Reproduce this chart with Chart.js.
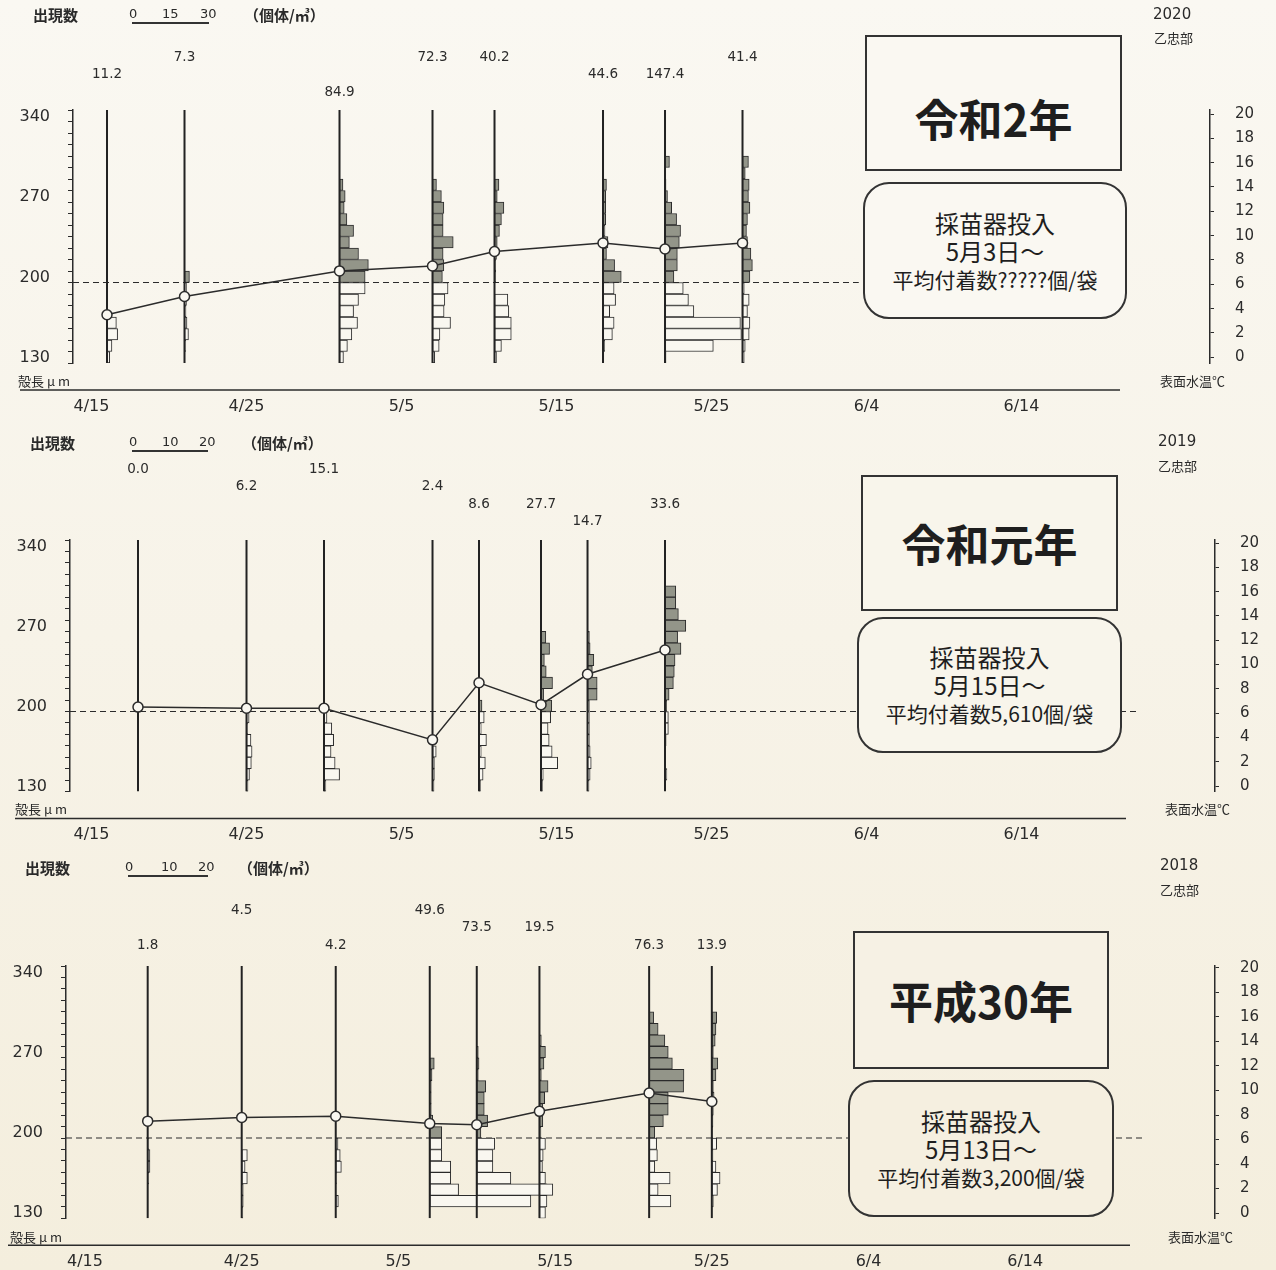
<!DOCTYPE html>
<html lang="ja">
<head>
<meta charset="utf-8">
<title>ホタテ稚貝 出現数・殻長組成と表面水温</title>
<script src="https://cdn.jsdelivr.net/npm/chart.js"></script>
<style>
  html, body { margin: 0; padding: 0; }
  body {
    width: 1276px; height: 1270px; overflow: hidden; position: relative;
    background: linear-gradient(#faf8f2, #f7f3e8 50%, #f4eedd);
    font-family: "Noto Sans CJK JP", sans-serif; color: #2a2a2a;
  }
  canvas { position: absolute; left: 0; }
  .t { position: absolute; transform: translateY(-50%); white-space: nowrap; line-height: 1; }
  .hd { font-size: 15px; font-weight: bold; }
  .sm { font-size: 13px; }
  .num { font-family: "DejaVu Sans", sans-serif; }
  .scale { position: absolute; height: 0; border-top: 2px solid #333; }
  .box1 {
    position: absolute; box-sizing: border-box; border: 2px solid #333;
    display: flex; align-items: center; justify-content: center;
    font-size: 44px; font-weight: bold; color: #1e1e1e;
  }
  .box2 {
    position: absolute; box-sizing: border-box; border: 2px solid #333; border-radius: 26px;
    display: flex; flex-direction: column; align-items: center; justify-content: center;
    font-size: 24px; line-height: 28px; color: #1e1e1e;
  }
  .box2 .l3 { font-size: 21px; }
</style>
</head>
<body>

<!-- 2020 -->
<canvas id="c2020" width="1276" height="425" style="top:0px"></canvas>
<div class="t hd" style="left:33px;top:14px">出現数</div>
<div class="scale" style="left:132px;top:22px;width:77px"></div>
<div class="t sm num" style="left:129px;top:13px">0</div>
<div class="t sm num" style="left:162px;top:13px">15</div>
<div class="t sm num" style="left:200px;top:13px">30</div>
<div class="t hd" style="left:244px;top:14px">（個体/㎥）</div>
<div class="t num" style="left:1153px;top:14px;font-size:15px">2020</div>
<div class="t sm" style="left:1154px;top:37px">乙忠部</div>
<div class="t sm" style="left:18px;top:380px">殻長 μ m</div>
<div class="t sm" style="left:1160px;top:380px">表面水温℃</div>
<div class="box1" style="left:865px;top:35px;width:257px;height:136px;background:#faf8f2;padding-top:30px">令和2年</div>
<div class="box2" style="left:863px;top:182px;width:264px;height:137px;background:#faf8f2">
  <div>採苗器投入</div><div>5月3日～</div><div class="l3">平均付着数?????個/袋</div>
</div>

<!-- 2019 -->
<canvas id="c2019" width="1276" height="425" style="top:425px"></canvas>
<div class="t hd" style="left:30px;top:442px">出現数</div>
<div class="scale" style="left:132px;top:450px;width:76px"></div>
<div class="t sm num" style="left:129px;top:441px">0</div>
<div class="t sm num" style="left:162px;top:441px">10</div>
<div class="t sm num" style="left:199px;top:441px">20</div>
<div class="t hd" style="left:242px;top:442px">（個体/㎥）</div>
<div class="t num" style="left:1158px;top:441px;font-size:15px">2019</div>
<div class="t sm" style="left:1158px;top:465px">乙忠部</div>
<div class="t sm" style="left:15px;top:808px">殻長 μ m</div>
<div class="t sm" style="left:1165px;top:808px">表面水温℃</div>
<div class="box1" style="left:861px;top:475px;width:257px;height:136px;background:#f8f5eb">令和元年</div>
<div class="box2" style="left:857px;top:617px;width:265px;height:136px;background:#f8f5eb">
  <div>採苗器投入</div><div>5月15日～</div><div class="l3">平均付着数5,610個/袋</div>
</div>

<!-- 2018 -->
<canvas id="c2018" width="1276" height="420" style="top:850px"></canvas>
<div class="t hd" style="left:25px;top:867px">出現数</div>
<div class="scale" style="left:128px;top:875px;width:80px"></div>
<div class="t sm num" style="left:125px;top:866px">0</div>
<div class="t sm num" style="left:161px;top:866px">10</div>
<div class="t sm num" style="left:198px;top:866px">20</div>
<div class="t hd" style="left:238px;top:867px">（個体/㎥）</div>
<div class="t num" style="left:1160px;top:865px;font-size:15px">2018</div>
<div class="t sm" style="left:1160px;top:889px">乙忠部</div>
<div class="t sm" style="left:10px;top:1236px">殻長 μ m</div>
<div class="t sm" style="left:1168px;top:1236px">表面水温℃</div>
<div class="box1" style="left:853px;top:931px;width:256px;height:138px;background:#f6f1e4">平成30年</div>
<div class="box2" style="left:848px;top:1080px;width:266px;height:137px;background:#f5efe0">
  <div>採苗器投入</div><div>5月13日～</div><div class="l3">平均付着数3,200個/袋</div>
</div>

<script>
  Chart.defaults.font.family = '"DejaVu Sans", "Noto Sans CJK JP", sans-serif';
  Chart.defaults.color = '#2a2a2a';

  // shared axes
  const binLow = [130, 140, 150, 160, 170, 180, 190, 200, 210, 220, 230, 240, 250, 260, 270, 280, 290, 300, 310, 320, 330];
  const lengthMinor = [130, 140, 150, 160, 170, 180, 190, 200, 210, 220, 230, 240, 250, 260, 270, 280, 290, 300, 310, 320, 330, 340, 350];
  const lengthTicks = [130, 200, 270, 340];
  const tempTicks = [0, 2, 4, 6, 8, 10, 12, 14, 16, 18, 20];
  const xTickDays = [0, 10, 20, 30, 40, 50, 60];            // days after 4/15
  const xTickLabels = ['4/15', '4/25', '5/5', '5/15', '5/25', '6/4', '6/14'];

  // 2020 (令和2年) - sample days after 4/15, totals (個体/m3), surface temp, size histograms (130..340um, 10um bins)
  const days2020 = [1, 6, 16, 22, 26, 33, 37, 42];
  const totals2020 = ['11.2', '7.3', '84.9', '72.3', '40.2', '44.6', '147.4', '41.4'];
  const rows2020 = [1, 0, 2, 0, 0, 1, 1, 0];
  const temp2020 = [3.5, 5.0, 7.1, 7.5, 8.7, 9.4, 8.9, 9.4];
  const hist2020 = [
    [1.1, 2.0, 4.3, 3.8, 0, 0, 0, 0, 0, 0, 0, 0, 0, 0, 0, 0, 0, 0, 0, 0, 0],
    [0, 0.5, 1.6, 1.0, 0.6, 0.8, 0.8, 2.0, 0, 0, 0, 0, 0, 0, 0, 0, 0, 0, 0, 0, 0],
    [1.6, 3.2, 5.0, 7.3, 5.7, 7.7, 10.4, 10.4, 11.7, 7.7, 4.0, 5.7, 3.0, 1.9, 2.3, 1.4, 0, 0, 0, 0, 0],
    [0.9, 2.7, 3.0, 7.3, 4.7, 5.0, 6.3, 4.0, 4.6, 4.3, 8.4, 4.3, 4.3, 4.6, 3.6, 1.6, 0, 0, 0, 0, 0],
    [0.8, 2.8, 6.8, 6.8, 5.8, 5.4, 0, 0.5, 0.5, 0.8, 1.1, 2.0, 2.8, 3.8, 1.1, 1.8, 0, 0, 0, 0, 0],
    [0, 0.7, 3.8, 4.5, 2.7, 5.1, 4.5, 7.4, 4.7, 1.4, 2.0, 0.8, 1.1, 1.1, 1.1, 1.4, 0, 0, 0, 0, 0],
    [0.4, 19.6, 31.0, 30.6, 11.7, 9.5, 7.4, 3.6, 5.0, 5.0, 5.8, 6.3, 4.7, 2.7, 1.0, 0.4, 0, 1.8, 0, 0, 0],
    [0.7, 1.1, 2.7, 3.0, 2.0, 2.7, 0.7, 3.0, 4.0, 3.4, 2.0, 1.6, 2.0, 3.0, 2.4, 2.7, 1.1, 2.4, 0, 0, 0]
  ];

  // 2019 (令和元年)
  const days2019 = [3, 10, 15, 22, 25, 29, 32, 37];
  const totals2019 = ['0.0', '6.2', '15.1', '2.4', '8.6', '27.7', '14.7', '33.6'];
  const rows2019 = [0, 1, 0, 1, 2, 2, 3, 2];
  const temp2019 = [6.5, 6.4, 6.4, 3.8, 8.5, 6.7, 9.2, 11.2];
  const hist2019 = [
    [0, 0, 0, 0, 0, 0, 0, 0, 0, 0, 0, 0, 0, 0, 0, 0, 0, 0, 0, 0, 0],
    [0.4, 0.8, 1.3, 1.5, 1.2, 0.3, 0.7, 0, 0, 0, 0, 0, 0, 0, 0, 0, 0, 0, 0, 0, 0],
    [0.5, 4.2, 3.0, 1.9, 2.6, 2.1, 0.8, 0, 0, 0, 0, 0, 0, 0, 0, 0, 0, 0, 0, 0, 0],
    [0.4, 0.5, 0.5, 1.0, 0, 0, 0, 0, 0, 0, 0, 0, 0, 0, 0, 0, 0, 0, 0, 0, 0],
    [0.4, 1.1, 1.7, 0.6, 2.0, 0.6, 1.4, 0.8, 0, 0, 0, 0, 0, 0, 0, 0, 0, 0, 0, 0, 0],
    [0.4, 0.6, 4.5, 3.0, 2.2, 1.9, 2.6, 2.9, 0.7, 3.1, 1.4, 0.9, 2.3, 1.3, 0, 0, 0, 0, 0, 0, 0],
    [0.4, 0.7, 1.0, 0.7, 0.5, 0.5, 0.5, 0.5, 2.6, 2.6, 1.3, 1.7, 0.7, 0.5, 0, 0, 0, 0, 0, 0, 0],
    [0, 0.5, 0, 0, 0.3, 0.9, 0.9, 0.45, 1.1, 2.25, 2.5, 2.7, 4.3, 3.4, 5.6, 3.6, 2.9, 2.9, 0, 0, 0]
  ];

  // 2018 (平成30年)
  const days2018 = [4, 10, 16, 22, 25, 29, 36, 40];
  const totals2018 = ['1.8', '4.5', '4.2', '49.6', '73.5', '19.5', '76.3', '13.9'];
  const rows2018 = [2, 0, 2, 0, 1, 1, 2, 2];
  const temp2018 = [7.5, 7.8, 7.9, 7.3, 7.2, 8.3, 9.8, 9.1];
  const hist2018 = [
    [0, 0, 0, 0.3, 0.6, 0.6, 0.3, 0, 0, 0, 0, 0, 0, 0, 0, 0, 0, 0, 0, 0, 0],
    [0.3, 0.4, 0.4, 1.5, 0.9, 1.5, 0, 0, 0, 0, 0, 0, 0, 0, 0, 0, 0, 0, 0, 0, 0],
    [0, 0.7, 0, 0.2, 1.5, 1.2, 0.6, 0, 0, 0, 0, 0, 0, 0, 0, 0, 0, 0, 0, 0, 0],
    [0, 27.0, 7.7, 5.6, 5.6, 3.2, 3.2, 3.2, 0.8, 0.4, 0.4, 0.4, 0.6, 1.2, 0, 0, 0, 0, 0, 0, 0],
    [0, 14.0, 20.3, 9.1, 4.3, 4.3, 4.8, 1.1, 2.9, 2.0, 2.0, 2.4, 0.4, 0.6, 0.4, 0, 0, 0, 0, 0, 0],
    [1.6, 2.0, 2.0, 1.6, 0.8, 1.0, 1.6, 0.4, 0.9, 0.9, 1.4, 2.3, 0.5, 1.2, 1.6, 0.5, 0, 0, 0, 0, 0],
    [0, 5.8, 2.4, 5.6, 1.5, 2.2, 2.0, 1.5, 3.8, 5.1, 5.1, 9.2, 9.3, 6.2, 5.1, 4.2, 2.4, 1.2, 0, 0, 0],
    [0, 0.4, 1.5, 2.2, 1.1, 0.3, 1.3, 0.2, 0.3, 0.4, 0.6, 0.4, 1.1, 1.6, 0.4, 0.9, 1.1, 1.3, 0, 0, 0]
  ];

  const INK = '#2b2b2b';
  const GRAY = '#939589';
  const PAPER = '#f9f7f0';

  // base line under the dates and the totals above each sample
  const panelDecor = {
    id: 'panelDecor',
    afterDraw(chart, args, o) {
      const {ctx, chartArea, scales} = chart;
      ctx.save();
      ctx.strokeStyle = INK;
      ctx.lineWidth = 1.5;
      ctx.beginPath();
      ctx.moveTo(o.lineFrom, chartArea.bottom + o.lineGap);
      ctx.lineTo(o.lineTo, chartArea.bottom + o.lineGap);
      ctx.stroke();
      ctx.fillStyle = INK;
      ctx.font = '13.5px "DejaVu Sans", sans-serif';
      ctx.textAlign = 'center';
      ctx.textBaseline = 'middle';
      o.days.forEach((d, i) => {
        const x = scales.x.getPixelForValue(d);
        ctx.fillText(o.totals[i], x, chartArea.top - o.rowTop + o.rows[i] * 17.5);
      });
      ctx.restore();
    }
  };

  function drawPanel(id, g, days, totals, rows, temps, hists) {
    const datasets = [];

    // vertical stems at each sampling date
    const stems = [];
    days.forEach(d => { stems.push({x: d, y: 130}, {x: d, y: 350}, {x: d, y: null}); });
    datasets.push({type: 'line', data: stems, borderColor: '#222', borderWidth: 2,
                   pointRadius: 0, spanGaps: false, order: 1});

    // surface water temperature
    datasets.push({type: 'line', yAxisID: 'yT', data: days.map((d, i) => ({x: d, y: temps[i]})),
                   borderColor: INK, borderWidth: 1.5, pointRadius: 5, pointHoverRadius: 5,
                   pointBackgroundColor: PAPER, pointBorderColor: INK, pointBorderWidth: 1.5, order: 0});

    // shell length histograms
    hists.forEach((h, i) => {
      const d = days[i];
      const data = [];
      h.forEach((v, k) => { if (v > 0) data.push({y: binLow[k] + 5, x: [d, d + v * g.unit]}); });
      datasets.push({type: 'bar', indexAxis: 'y', grouped: false, data: data,
                     barPercentage: 1, categoryPercentage: 1, borderWidth: 1, borderColor: INK,
                     borderSkipped: false,
                     backgroundColor: c => (c.raw && c.raw.y >= 200 ? GRAY : PAPER), order: 2});
    });

    // 200 um reference
    datasets.push({type: 'line', data: [{x: g.xMin, y: 200}, {x: g.dashEnd, y: 200}],
                   borderColor: INK, borderWidth: 1.2, borderDash: [6, 4], pointRadius: 0, order: 3});

    new Chart(document.getElementById(id), {
      type: 'line',
      data: {datasets: datasets},
      options: {
        responsive: false,
        animation: false,
        events: [],
        layout: {padding: {top: g.top, left: 0, right: 0, bottom: 0}},
        plugins: {
          legend: {display: false},
          tooltip: {enabled: false},
          panelDecor: {days: days, totals: totals, rows: rows, rowTop: g.rowTop,
                       lineGap: 27, lineFrom: g.lineFrom, lineTo: g.lineTo}
        },
        scales: {
          x: {
            type: 'linear', min: g.xMin, max: g.xMax,
            afterFit: s => { s.height = g.xAxisH; },
            afterBuildTicks: s => { s.ticks = xTickDays.map(v => ({value: v})); },
            grid: {display: false, drawTicks: false},
            border: {display: false},
            ticks: {padding: 34, autoSkip: false, maxRotation: 0, font: {size: 16}, color: INK,
                    callback: v => xTickLabels[xTickDays.indexOf(v)]}
          },
          y: {
            type: 'linear', position: 'left', min: 130, max: 350, offset: false,
            afterFit: s => { s.width = g.left; },
            afterBuildTicks: s => { s.ticks = lengthMinor.map(v => ({value: v})); },
            grid: {drawOnChartArea: false, offset: false, tickLength: 5, color: INK},
            border: {display: true, color: INK, width: 1.5},
            ticks: {padding: 18, autoSkip: false, labelOffset: -5, font: {size: 16}, color: INK,
                    callback: v => (lengthTicks.includes(v) ? String(v) : '')}
          },
          yT: {
            type: 'linear', position: 'right', min: g.tMin, max: g.tMax,
            afterFit: s => { s.width = g.right; },
            afterBuildTicks: s => { s.ticks = tempTicks.map(v => ({value: v})); },
            grid: {drawOnChartArea: false, tickLength: 4, color: INK},
            border: {display: true, color: INK, width: 1.5},
            ticks: {padding: 21, autoSkip: false, font: {size: 15}, color: INK}
          }
        }
      },
      plugins: [panelDecor]
    });
  }

  drawPanel('c2020', {top: 110, xAxisH: 62, left: 73, right: 66, xMin: -1.194, xMax: 72.16, dashEnd: 49.5,
                      tMin: -0.47, tMax: 20.33, unit: 0.159, rowTop: 53, lineFrom: 20, lineTo: 1120},
            days2020, totals2020, rows2020, temp2020, hist2020);
  drawPanel('c2019', {top: 115, xAxisH: 58.5, left: 70, right: 61, xMin: -1.387, xMax: 72.48, dashEnd: 67.5,
                      tMin: -0.45, tMax: 20.25, unit: 0.239, rowTop: 71, lineFrom: 15, lineTo: 1126},
            days2019, totals2019, rows2019, temp2019, hist2019);
  drawPanel('c2018', {top: 116, xAxisH: 51.7, left: 66, right: 61, xMin: -1.213, xMax: 72.11, dashEnd: 67.5,
                      tMin: -0.43, tMax: 20.16, unit: 0.239, rowTop: 56, lineFrom: 8, lineTo: 1130},
            days2018, totals2018, rows2018, temp2018, hist2018);
</script>
</body>
</html>
